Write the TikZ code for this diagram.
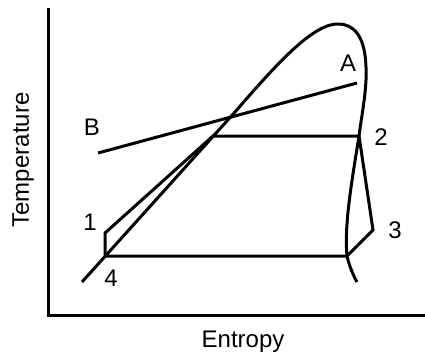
\documentclass[tikz,border=0pt]{standalone}
\usepackage{fontspec}
\setmainfont{Liberation Sans}
\usepackage{tikz}
\usetikzlibrary{calc}

\begin{document}
\begin{tikzpicture}[
  x=1pt,y=-1pt,
  every node/.style={font=\fontsize{24}{28}\selectfont,inner sep=0pt},
  axis/.style={line width=3pt,line join=miter},
  dome/.style={line width=3pt,line join=round},
  cyc/.style={line width=3pt,line join=miter},
  heat/.style={line width=3pt}
]
\useasboundingbox (0,0) rectangle (425,356);

% ------------------------------------------------------------
% Axes
% ------------------------------------------------------------
\draw[axis] (48,8) -- (48,315) -- (425,315);
\node[rotate=90] (tlabel) at (23,160) {Temperature};
\node (slabel) at (243,342) {Entropy};

% ------------------------------------------------------------
% Saturation dome
% ------------------------------------------------------------
\draw[dome] (82,282) -- (235,112)
  .. controls (280,60) and (315,22) .. (340,24)
  .. controls (362,26) and (367,50) .. (366,80)
  .. controls (365,100) and (361,120) .. (359,136)
  .. controls (352,180) and (344,225) .. (347,256)
  .. controls (349,265) and (353,275) .. (357,282);

% ------------------------------------------------------------
% Cycle 1-2-3-4
% ------------------------------------------------------------
\coordinate (p4) at (105,256);
\coordinate (p1) at (105,233);
\coordinate (pf) at (213,136);
\coordinate (p2) at (359,136);
\coordinate (p3) at (373,230);
\coordinate (pg) at (347,256);

\draw[cyc] (p4) -- (p1) -- (pf) -- (p2) -- (p3) -- (pg) -- cycle;

% Heat source line
\coordinate (pb) at (98,153);
\coordinate (pa) at (357,83);
\draw[heat] (pb) -- (pa);

% Labels
\node (l1) at (90,222) {1};
\node (l2) at (381,137) {2};
\node (l3) at (395,230) {3};
\node (l4) at (111,278) {4};
\node (la) at (348,63) {A};
\node (lb) at (92,127) {B};

\end{tikzpicture}
\end{document}
